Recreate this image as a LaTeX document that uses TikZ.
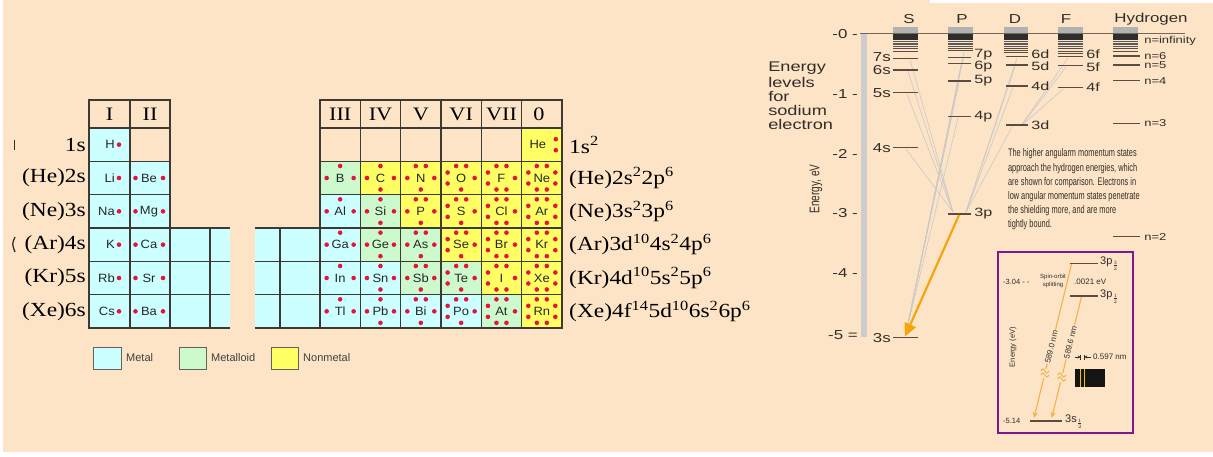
\documentclass[tikz,border=0pt]{standalone}
\usepackage{fontspec}
\setmainfont{Liberation Serif}
\setsansfont{Liberation Sans}
\usepackage{graphicx}
\usetikzlibrary{arrows.meta}

\definecolor{bg}{RGB}{253,228,199}
\definecolor{metal}{RGB}{204,255,255}
\definecolor{metalloid}{RGB}{204,250,204}
\definecolor{nonmetal}{RGB}{255,255,100}
\definecolor{gridc}{RGB}{60,58,50}
\definecolor{dotc}{RGB}{228,20,62}
\definecolor{lvl}{RGB}{90,76,62}
\definecolor{fan}{RGB}{200,200,200}
\definecolor{txt}{RGB}{50,45,40}
\definecolor{orng}{RGB}{245,165,10}
\definecolor{purp}{RGB}{125,25,140}
\definecolor{lorng}{RGB}{240,180,70}

\newcommand\fsz[1]{\fontsize{#1}{#1}\selectfont}
\newcommand\dt[2]{\fill[dotc] (#1,#2) circle (2.3pt);}
\newcommand\dL{\dt{-13.5}{0}}
\newcommand\dR{\dt{13.5}{0}}
\newcommand\dT{\dt{0}{-12}}
\newcommand\dB{\dt{0}{11.5}}
\newcommand\dTp{\dt{-5}{-12}\dt{5}{-12}}
\newcommand\dBp{\dt{-5}{11.5}\dt{5}{11.5}}
\newcommand\dLp{\dt{-13.5}{-5.5}\dt{-13.5}{5.5}}
\newcommand\dRp{\dt{13.5}{-5.5}\dt{13.5}{5.5}}
% x1 x2 row colour symbol group
\newcommand\el[6]{%
  \pgfmathsetmacro\ya{128+(#3-1)*33.3333}%
  \pgfmathsetmacro\yb{\ya+33.3333}%
  \pgfmathsetmacro\cx{(#1+#2)/2}%
  \pgfmathsetmacro\cy{\ya+16.6667}%
  \fill[#4] (#1,\ya) rectangle (#2,\yb);
  \begin{scope}[shift={(\cx,\cy)}]
  \ifcase#6\relax
  \or \node[sym, anchor=east] (s#5) at (5.5,0) {#5}; \dt{9.5}{0}
  \or \node[sym] (s#5) at (-1,0) {#5}; \dt{-14.5}{0}\dt{13}{0}
  \or \node[sym] (s#5) at (0,0) {#5}; \dL\dR\dT
  \or \node[sym] (s#5) at (0,0) {#5}; \dL\dR\dT\dB
  \or \node[sym] (s#5) at (0,0) {#5}; \dL\dR\dTp\dB
  \or \node[sym] (s#5) at (0,0) {#5}; \dLp\dR\dTp\dB
  \or \node[sym] (s#5) at (0,0) {#5}; \dLp\dR\dTp\dBp
  \or \node[sym] (s#5) at (0,0) {#5}; \dLp\dRp\dTp\dBp
  \or \node[sym] (s#5) at (-4,0) {#5}; \dt{14}{-5.5}\dt{14}{5.5}
  \fi
  \end{scope}}

\begin{document}
\begin{tikzpicture}[x=1pt,y=-1pt,
  sym/.style={font=\sffamily\fsz{12}, text=black!85, inner sep=0pt, xscale=1.08},
  hdr/.style={font=\fsz{19}, inner sep=0pt, xscale=1.17},
  cfg/.style={font=\fsz{20}, inner sep=0pt, xscale=1.17},
  tgrid/.style={draw=gridc, line width=1.1pt},
  lab/.style={font=\sffamily\fsz{13}, text=txt, inner sep=0pt, xscale=1.3},
  slab/.style={font=\sffamily\fsz{12}, text=txt, inner sep=0pt, xscale=1.35},
  nlab/.style={font=\sffamily\fsz{10}, text=txt, inner sep=0pt, xscale=1.3},
  lv/.style={draw=lvl, line width=1.1pt},
  fanl/.style={draw=fan, line width=0.6pt},
  leg/.style={font=\sffamily\fsz{11}, text=black!75, inner sep=0pt, anchor=west},
  para/.style={font=\sffamily\fsz{11}, text=txt, inner sep=0pt, xscale=0.67, anchor=west},
  tiny/.style={font=\sffamily\fsz{7.5}, text=txt, inner sep=0pt}
]
\useasboundingbox (0,0) rectangle (1213,456);
\fill[white] (0,0) rectangle (1213,456);
\fill[bg] (3,0) rectangle (1213,452);
\fill[white] (930,0) rectangle (1213,2.5);

% ================= periodic table =================
\fill[metal] (170,228) rectangle (230,328);
\fill[metal] (255,228) rectangle (320,328);
% row 1
\el{89}{130}{1}{metal}{H}{1}
\el{521.6}{562}{1}{nonmetal}{He}{9}
% row 2
\el{89}{130}{2}{metal}{Li}{1}
\el{130}{170}{2}{metal}{Be}{2}
\el{320}{360.3}{2}{metalloid}{B}{3}
\el{360.3}{400.6}{2}{nonmetal}{C}{4}
\el{400.6}{441}{2}{nonmetal}{N}{5}
\el{441}{481.3}{2}{nonmetal}{O}{6}
\el{481.3}{521.6}{2}{nonmetal}{F}{7}
\el{521.6}{562}{2}{nonmetal}{Ne}{8}
% row 3
\el{89}{130}{3}{metal}{Na}{1}
\el{130}{170}{3}{metal}{Mg}{2}
\el{320}{360.3}{3}{metal}{Al}{3}
\el{360.3}{400.6}{3}{metalloid}{Si}{4}
\el{400.6}{441}{3}{nonmetal}{P}{5}
\el{441}{481.3}{3}{nonmetal}{S}{6}
\el{481.3}{521.6}{3}{nonmetal}{Cl}{7}
\el{521.6}{562}{3}{nonmetal}{Ar}{8}
% row 4
\el{89}{130}{4}{metal}{K}{1}
\el{130}{170}{4}{metal}{Ca}{2}
\el{320}{360.3}{4}{metal}{Ga}{3}
\el{360.3}{400.6}{4}{metalloid}{Ge}{4}
\el{400.6}{441}{4}{metalloid}{As}{5}
\el{441}{481.3}{4}{nonmetal}{Se}{6}
\el{481.3}{521.6}{4}{nonmetal}{Br}{7}
\el{521.6}{562}{4}{nonmetal}{Kr}{8}
% row 5
\el{89}{130}{5}{metal}{Rb}{1}
\el{130}{170}{5}{metal}{Sr}{2}
\el{320}{360.3}{5}{metal}{In}{3}
\el{360.3}{400.6}{5}{metal}{Sn}{4}
\el{400.6}{441}{5}{metalloid}{Sb}{5}
\el{441}{481.3}{5}{metalloid}{Te}{6}
\el{481.3}{521.6}{5}{nonmetal}{I}{7}
\el{521.6}{562}{5}{nonmetal}{Xe}{8}
% row 6
\el{89}{130}{6}{metal}{Cs}{1}
\el{130}{170}{6}{metal}{Ba}{2}
\el{320}{360.3}{6}{metal}{Tl}{3}
\el{360.3}{400.6}{6}{metal}{Pb}{4}
\el{400.6}{441}{6}{metal}{Bi}{5}
\el{441}{481.3}{6}{metal}{Po}{6}
\el{481.3}{521.6}{6}{metalloid}{At}{7}
\el{521.6}{562}{6}{nonmetal}{Rn}{8}

% grid lines
\draw[tgrid] (89,100) rectangle (170,328);
\draw[tgrid] (130,100) -- (130,328);
\foreach \yy in {128,161.33,194.67,228,261.33,294.67} \draw[tgrid] (89,\yy) -- (170,\yy);
\foreach \yy in {228,261.33,294.67,328} {\draw[tgrid] (170,\yy) -- (230,\yy); \draw[tgrid] (255,\yy) -- (320,\yy);}
\draw[tgrid] (210,228) -- (210,328);
\draw[tgrid] (280,228) -- (280,328);
\draw[tgrid] (320,100) rectangle (562,328);
\foreach \xx in {360.3,400.6,441,481.3,521.6} \draw[tgrid] (\xx,100) -- (\xx,328);
\foreach \yy in {128,161.33,194.67,228,261.33,294.67} \draw[tgrid] (320,\yy) -- (562,\yy);

% headers
\node[hdr] (hI) at (109.5,114.5) {I};
\node[hdr] (hII) at (150,114.5) {II};
\node[hdr] (hIII) at (340.2,114.5) {III};
\node[hdr] (hIV) at (380.5,114.5) {IV};
\node[hdr] (hV) at (420.8,114.5) {V};
\node[hdr] (hVI) at (461.2,114.5) {VI};
\node[hdr] (hVII) at (501.5,114.5) {VII};
\node[hdr] (hO) at (539,114.5) {0};

% left configurations
\node[cfg, anchor=east] (l1) at (86,144.7) {1s};
\node[cfg, anchor=east] (l2) at (86,178) {(He)2s};
\node[cfg, anchor=east] (l3) at (86,211.3) {(Ne)3s};
\node[cfg, anchor=east] (l4) at (86,244.7) {(Ar)4s};
\node[cfg, anchor=east] (l5) at (86,278) {(Kr)5s};
\node[cfg, anchor=east] (l6) at (86,311.3) {(Xe)6s};
\draw[txt, line width=0.9pt] (14,140) -- (14,150);
\draw[txt, line width=1.3pt] (15,237) .. controls (12,244) .. (15,252);

% right configurations
\node[cfg, anchor=west] (r1) at (569,144.7) {1s\textsuperscript{2}};
\node[cfg, anchor=west] (r2) at (569,178) {(He)2s\textsuperscript{2}2p\textsuperscript{6}};
\node[cfg, anchor=west] (r3) at (569,211.3) {(Ne)3s\textsuperscript{2}3p\textsuperscript{6}};
\node[cfg, anchor=west] (r4) at (569,244.7) {(Ar)3d\textsuperscript{10}4s\textsuperscript{2}4p\textsuperscript{6}};
\node[cfg, anchor=west] (r5) at (569,278) {(Kr)4d\textsuperscript{10}5s\textsuperscript{2}5p\textsuperscript{6}};
\node[cfg, anchor=west] (r6) at (569,311.3) {(Xe)4f\textsuperscript{14}5d\textsuperscript{10}6s\textsuperscript{2}6p\textsuperscript{6}};

% legend
\draw[gridc!80, line width=0.8pt, fill=metal] (93,347) rectangle (121,369);
\node[leg] (lgm) at (126,358) {Metal};
\draw[gridc!80, line width=0.8pt, fill=metalloid] (179,347) rectangle (206,369);
\node[leg] (lgmd) at (211,358) {Metalloid};
\draw[gridc!80, line width=0.8pt, fill=nonmetal] (271,347) rectangle (298,369);
\node[leg] (lgn) at (303,358) {Nonmetal};

% ================= energy level diagram =================
\fill[black!20] (861,34) rectangle (867,337);
\node[lab] (cS) at (909,19) {S};
\node[lab] (cP) at (962,19) {P};
\node[lab] (cD) at (1015,19) {D};
\node[lab] (cF) at (1066,19) {F};
\node[lab] (cH) at (1151,19) {Hydrogen};
\foreach \xa/\xb in {893.3/918.3, 948.3/973.3, 1003.5/1028.3, 1057.7/1082.7, 1113/1138} {
  \fill[black!30] (\xa,26.7) rectangle (\xb,33.3);
  \fill[black!82] (\xa,33.3) rectangle (\xb,40);
  \foreach \yy in {41.5,43,44.5,46} \draw[black!65, line width=0.8pt] (\xa,\yy) -- (\xb,\yy);
}
\foreach \xa/\xb/\yy in {893.3/918.3/48.5, 893.3/918.3/51.7, 948.3/973.3/48.5, 948.3/973.3/50.7,
  1003.5/1028.3/48, 1003.5/1028.3/50.2, 1003.5/1028.3/52.5, 1057.7/1082.7/48.5, 1057.7/1082.7/51,
  1057.7/1082.7/53, 1113/1138/48.5, 1113/1138/51}
  \draw[lv, line width=0.9pt] (\xa,\yy) -- (\xb,\yy);
\draw[draw=lvl!85, line width=1.6pt] (860,33.3) -- (1185,33.3);

% tick labels
\node[lab, anchor=east] (t0) at (858,34) {-0 -};
\node[lab, anchor=east] (t1) at (858,94) {-1 -};
\node[lab, anchor=east] (t2) at (858,153.5) {-2 -};
\node[lab, anchor=east] (t3) at (858,213) {-3 -};
\node[lab, anchor=east] (t4) at (858,273) {-4 -};
\node[lab, anchor=east] (t5) at (858,335) {-5 =};
\node[font=\sffamily\fsz{14}, text=txt, inner sep=0pt, rotate=90] (ax) at (816,189) {\scalebox{0.72}[1]{Energy, eV}};

% title
\node[lab, font=\sffamily\fsz{14}, anchor=west] (ti1) at (768,68) {Energy};
\node[lab, font=\sffamily\fsz{14}, anchor=west] (ti2) at (768,82) {levels};
\node[lab, font=\sffamily\fsz{14}, anchor=west] (ti3) at (768,96) {for};
\node[lab, font=\sffamily\fsz{14}, anchor=west] (ti4) at (768,110) {sodium};
\node[lab, font=\sffamily\fsz{14}, anchor=west] (ti5) at (768,124) {electron};

% fan lines
\coordinate (p3L) at (953,212);
\coordinate (p3R) at (966,212);
\coordinate (s3T) at (906,333);
\coordinate (d3T) at (1021,126);
\foreach \xx/\yy in {906/149, 907/94, 908/71.5, 910/59.5} \draw[fanl] (\xx,\yy) -- (p3L);
\foreach \xx/\yy in {958/118, 959/82.5, 961/65, 963/59, 964/52} \draw[fanl] (\xx,\yy) -- (s3T);
\foreach \xx/\yy in {1012/127, 1013/87.5, 1015/66.5, 1017/58} \draw[fanl] (\xx,\yy) -- (p3R);
\foreach \xx/\yy in {1063/89, 1066/67, 1068/58} \draw[fanl] (\xx,\yy) -- (d3T);

% S levels
\foreach \nm/\yy/\ly in {7s/58.3/57.5, 6s/70/70.5, 5s/92.7/92.7, 4s/147.7/147.7, 3s/337.7/338.5} {
  \draw[lv] (893,\yy) -- (918,\yy);
  \node[lab, anchor=east] (lab\nm) at (891,\ly) {\nm};
}
% P levels
\foreach \nm/\yy/\ly in {7p/57.7/54.5, 6p/63.3/66.5, 5p/81/81, 4p/116.7/116.7, 3p/214/214} {
  \draw[lv] (948,\yy) -- (971,\yy);
  \node[slab, anchor=west] (lab\nm) at (974,\ly) {\nm};
}
% D levels
\foreach \nm/\yy/\ly in {6d/56.7/54, 5d/65/66.5, 4d/86/86, 3d/125/125} {
  \draw[lv] (1006,\yy) -- (1028,\yy);
  \node[slab, anchor=west] (lab\nm) at (1031,\ly) {\nm};
}
% F levels
\foreach \nm/\yy/\ly in {6f/56.7/54, 5f/65.7/66.8, 4f/87.3/87.3} {
  \draw[lv] (1058,\yy) -- (1083,\yy);
  \node[slab, anchor=west] (lab\nm) at (1086,\ly) {\nm};
}
% Hydrogen levels
\foreach \nm/\yy in {6/56, 5/65, 4/80.7, 3/123.3, 2/236.7} {
  \draw[lv] (1113,\yy) -- (1140,\yy);
  \node[nlab, anchor=west] (labn\nm) at (1144,\yy) {n=\nm};
}
\node[nlab, anchor=west] (labninf) at (1144,40.7) {n=infinity};

% orange transition arrow
\coordinate (p3m) at (959,215);
\coordinate (s3tip) at (905,336.5);
\draw[orng, line width=2.2pt, -{Triangle[length=13pt,width=12pt]}] (p3m) -- (s3tip);

% explanatory text
\node[para] (pa1) at (1008,154) {The higher angularm momentum states};
\node[para] (pa2) at (1008,168.5) {approach the hydrogen energies, which};
\node[para] (pa3) at (1008,183) {are shown for comparison. Electrons in};
\node[para] (pa4) at (1008,197) {low angular momentum states penetrate};
\node[para] (pa5) at (1008,211) {the shielding more, and are more};
\node[para] (pa6) at (1008,225) {tightly bound.};

% ================= inset =================
\draw[purp, line width=2pt] (998.3,252.3) rectangle (1133.3,433.3);
\coordinate (a1) at (1071.7,263.3);
\coordinate (a1e) at (1034,418);
\coordinate (a2) at (1081.7,296);
\coordinate (a2e) at (1051.7,418);
\draw[lorng, line width=1.1pt, -{Stealth[length=6pt,width=5pt]}] (a1) -- node[pos=0.54, sloped, fill=bg, inner sep=0.5pt, font=\sffamily\fsz{8}, text=txt] (w1) {589.0 nm} (a1e);
\draw[lorng, line width=1.1pt, -{Stealth[length=6pt,width=5pt]}] (a2) -- node[pos=0.38, sloped, fill=bg, inner sep=0.5pt, font=\sffamily\fsz{8}, text=txt] (w2) {589.6 nm} (a2e);
\foreach \xx/\yy in {1044.9/373, 1061.8/377} {
  \fill[bg] (\xx-5,\yy-4.5) rectangle (\xx+5,\yy+4.5);
  \draw[lorng, line width=1pt] (\xx-4,\yy-2) sin (\xx-2,\yy-4) cos (\xx,\yy-2) sin (\xx+2,\yy) cos (\xx+4,\yy-2);
  \draw[lorng, line width=1pt] (\xx-4,\yy+2) sin (\xx-2,\yy) cos (\xx,\yy+2) sin (\xx+2,\yy+4) cos (\xx+4,\yy+2);
}
\draw[lvl, line width=1.4pt] (1070,263.3) -- (1098,263.3);
\draw[lvl, line width=1.4pt] (1070,296) -- (1098,296);
\draw[lvl, line width=1.4pt] (1030,421) -- (1062,421);
\node[font=\sffamily\fsz{11}, text=txt, inner sep=0pt, anchor=west] (i3p3) at (1100,264) {3p$_{\frac{3}{2}}$};
\node[font=\sffamily\fsz{11}, text=txt, inner sep=0pt, anchor=west] (i3p1) at (1100,297) {3p$_{\frac{1}{2}}$};
\node[font=\sffamily\fsz{11}, text=txt, inner sep=0pt, anchor=west] (i3s) at (1065,422) {3s$_{\frac{1}{2}}$};
\node[tiny, anchor=west] (e304) at (1003,282) {-3.04 - -};
\node[font=\sffamily\fsz{6}, text=txt, inner sep=0pt] (so1) at (1053,276.5) {Spin-orbit};
\node[font=\sffamily\fsz{6}, text=txt, inner sep=0pt] (so2) at (1053,285) {splitting};
\node[font=\sffamily\fsz{8}, text=txt, inner sep=0pt, anchor=west] (e0021) at (1074,282) {.0021 eV};
\node[tiny, anchor=west] (e514) at (1003,421) {-5.14};
\node[tiny, rotate=90] (eev) at (1013,347) {Energy (eV)};
% spectrum
\fill[black!92] (1075,369) rectangle (1105,387);
\draw[orng!70!yellow, line width=1.2pt] (1080.7,369) -- (1080.7,387);
\draw[orng!70!yellow, line width=1.2pt] (1084.3,369) -- (1084.3,387);
\coordinate (m1) at (1080.7,357);
\coordinate (m2) at (1084.3,357);
\draw[txt, line width=0.6pt, -{Stealth[length=3pt,width=3pt]}] (1074.5,357) -- (m1);
\draw[txt, line width=0.6pt, -{Stealth[length=3pt,width=3pt]}] (1090.5,357) -- (m2);
\draw[txt, line width=0.6pt] (1080.7,354.5) -- (1080.7,359.5);
\draw[txt, line width=0.6pt] (1084.3,354.5) -- (1084.3,359.5);
\node[font=\sffamily\fsz{8}, text=txt, inner sep=0pt, anchor=west] (e597) at (1093,357) {0.597 nm};
\end{tikzpicture}
\end{document}
